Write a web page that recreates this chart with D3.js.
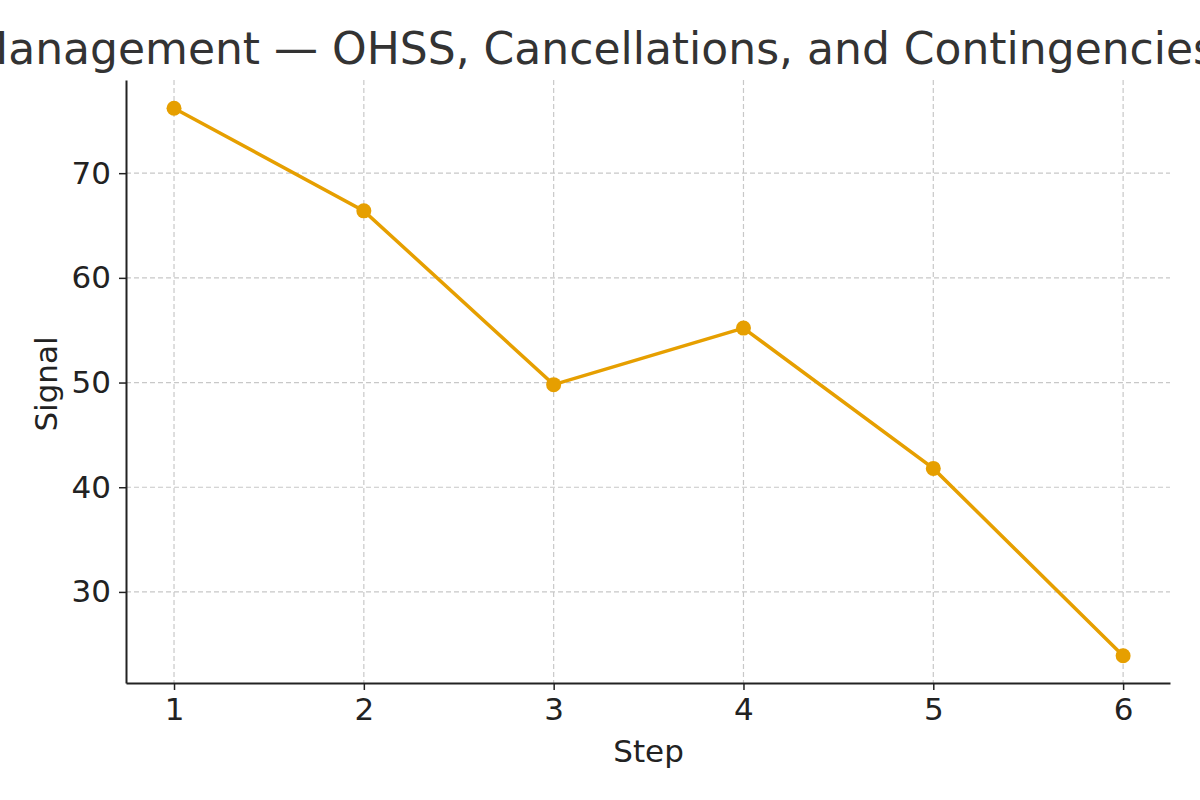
<!DOCTYPE html>
<html><head><meta charset="utf-8">
<script src="https://cdn.jsdelivr.net/npm/d3@7"></script>
<style>body{margin:0;background:#fff;overflow:hidden}text{font-family:"DejaVu Sans",sans-serif}</style>
</head><body><div id="chart"></div>
<script>
const steps = [1, 2, 3, 4, 5, 6];
const signal = [76.2, 66.4, 49.8, 55.2, 41.8, 23.9];
const yTicks = [30, 40, 50, 60, 70];
const title = "Management — OHSS, Cancellations, and Contingencies";

const width = 1200, height = 800;
const margin = { top: 80, right: 30, bottom: 117, left: 126 };

const svg = d3.select('#chart').append('svg')
  .attr('width', width).attr('height', height);

const x = d3.scaleLinear().domain([0.747, 6.247]).range([margin.left, width - margin.right]);
const y = d3.scaleLinear().domain([21.3, 78.9]).range([height - margin.bottom, margin.top]);

// grid
const grid = svg.append('g').attr('stroke', '#c8c8c8').attr('stroke-dasharray', '5,3').attr('stroke-width', 1.2);
grid.selectAll('.gx').data(steps).join('line')
  .attr('x1', d => x(d)).attr('x2', d => x(d))
  .attr('y1', margin.top).attr('y2', height - margin.bottom);
grid.selectAll('.gy').data(yTicks).join('line')
  .attr('y1', d => y(d)).attr('y2', d => y(d))
  .attr('x1', margin.left).attr('x2', width - margin.right);

// axes
const xAxis = svg.append('g')
  .attr('transform', `translate(0,${height - margin.bottom})`)
  .call(d3.axisBottom(x).tickValues(steps).tickFormat(d3.format('d')).tickSize(7).tickPadding(8).tickSizeOuter(0));
const yAxis = svg.append('g')
  .attr('transform', `translate(${margin.left},0)`)
  .call(d3.axisLeft(y).tickValues(yTicks).tickFormat(d3.format('d')).tickSize(7).tickPadding(8).tickSizeOuter(0));
[xAxis, yAxis].forEach(a => {
  a.attr('font-size', 31);
  a.selectAll('text').attr('font-size', 31).attr('fill', '#222').style('font-family', 'DejaVu Sans');
  a.selectAll('line').attr('stroke', '#222').attr('stroke-width', 1.5);
  a.select('.domain').attr('stroke', '#222').attr('stroke-width', 2);
});

// line + points
const line = d3.line().x((d, i) => x(steps[i])).y(d => y(d));
svg.append('path').datum(signal)
  .attr('d', line).attr('fill', 'none')
  .attr('stroke', '#E69F00').attr('stroke-width', 3.5);
svg.selectAll('.pt').data(signal).join('circle')
  .attr('cx', (d, i) => x(steps[i])).attr('cy', d => y(d))
  .attr('r', 7.5).attr('fill', '#E69F00');

// labels
svg.append('text').attr('x', x(3.5)).attr('y', 762).attr('text-anchor', 'middle')
  .attr('font-size', 31).attr('fill', '#222').text('Step');
svg.append('text').attr('transform', 'translate(57,384) rotate(-90)')
  .attr('text-anchor', 'middle').attr('font-size', 31).attr('fill', '#222').text('Signal');
svg.append('text').attr('x', 1216).attr('y', 64).attr('text-anchor', 'end')
  .attr('font-size', 44).attr('fill', '#333').text(title);
</script></body></html>
